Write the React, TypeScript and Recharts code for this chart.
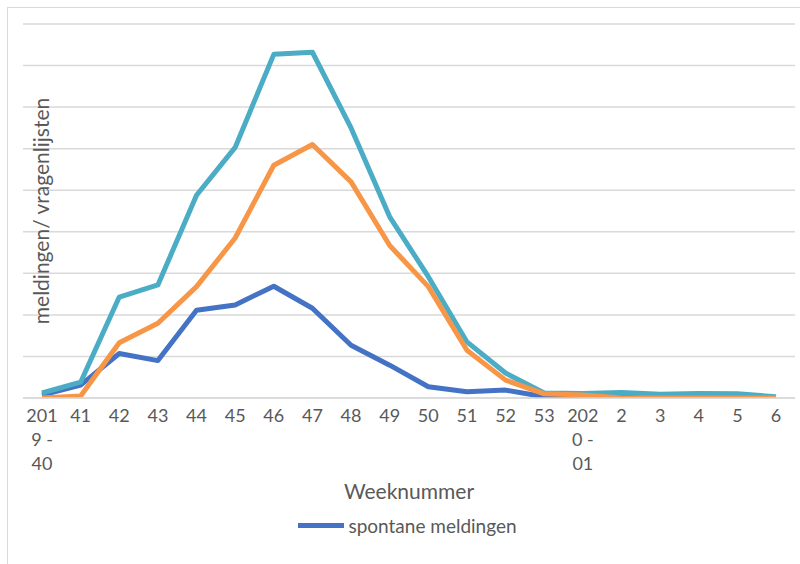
import { LineChart, Line, XAxis, YAxis, CartesianGrid, Legend, Label } from 'recharts'

const weken = [
  '2019 - 40', '41', '42', '43', '44', '45', '46', '47', '48', '49', '50', '51', '52', '53',
  '2020 - 01', '2', '3', '4', '5', '6',
]

// hoe Excel de lange labels afbreekt
const tickRegels: Record<string, string[]> = {
  '2019 - 40': ['201', '9 -', '40'],
  '2020 - 01': ['202', '0 -', '01'],
}

const spontaan = [0.07, 0.31, 1.07, 0.9, 2.11, 2.24, 2.69, 2.16, 1.27, 0.79, 0.27, 0.15, 0.19, 0.03, -0.04, 0.04, 0.03, 0.04, 0.03, 0.01]
const totaal = [0.12, 0.38, 2.43, 2.72, 4.88, 6.03, 8.27, 8.32, 6.5, 4.36, 2.92, 1.35, 0.6, 0.12, 0.11, 0.13, 0.09, 0.11, 0.1, 0.03]
const vragenlijsten = [0, 0.05, 1.33, 1.8, 2.68, 3.85, 5.6, 6.1, 5.2, 3.67, 2.68, 1.15, 0.43, 0.1, 0.07, 0, 0, 0, 0, 0]

const yTicks = [0, 1, 2, 3, 4, 5, 6, 7, 8, 9]

const data = weken.map((week, i) => ({
  week,
  spontaan: spontaan[i],
  totaal: totaal[i],
  vragenlijsten: vragenlijsten[i],
}))

const FONT = 'Lato, "Open Sans", sans-serif'
const GRIJS = '#595959'

function WeekTick({ x, y, payload }: { x?: number; y?: number; payload?: { value: string } }) {
  const waarde = payload?.value ?? ''
  const regels = tickRegels[waarde] ?? [waarde]
  return (
    <text x={x} y={y} textAnchor="middle" fill={GRIJS} fontSize={18} fontFamily={FONT}>
      {regels.map((r, i) => (
        <tspan key={i} x={x} dy={i === 0 ? 16 : 24}>{r}</tspan>
      ))}
    </text>
  )
}

function Legenda() {
  return (
    <div style={{ height: 28, display: 'flex', alignItems: 'center', justifyContent: 'center', paddingLeft: 20, fontFamily: FONT, fontSize: 19, color: GRIJS }}>
      <span style={{ display: 'inline-block', width: 46, height: 5, background: '#4472C4', marginRight: 4 }} />
      <span>spontane meldingen</span>
    </div>
  )
}

export default function App() {
  return (
    <div style={{ position: 'absolute', left: 0, top: 0, width: 800, height: 564, overflow: 'hidden', background: '#fff' }}>
      <div style={{ position: 'absolute', left: 7, top: 7, width: 820, height: 600, border: '1px solid #d9d9d9' }} />
      <LineChart
        width={800}
        height={564}
        data={data}
        margin={{ top: 24, right: 5, left: 0, bottom: 25 }}
        style={{ position: 'absolute', left: 0, top: 0 }}
      >
        <CartesianGrid vertical={false} stroke="#d9d9d9" strokeWidth={1.5} />
        <XAxis
          dataKey="week"
          interval={0}
          padding={{ left: 19, right: 19 }}
          tick={<WeekTick />}
          tickLine={false}
          axisLine={{ stroke: '#d9d9d9', strokeWidth: 1.5 }}
          height={113}
        >
          <Label value="Weeknummer" position="insideBottom" offset={12} fill={GRIJS} fontSize={21} fontFamily={FONT} />
        </XAxis>
        <YAxis
          domain={[0, 9]}
          ticks={yTicks}
          allowDataOverflow
          tick={() => <g />}
          axisLine={false}
          tickLine={false}
          width={23}
        >
          <Label
            content={({ viewBox }: any) => {
              const cx = viewBox.x + viewBox.width + 17
              const cy = viewBox.y + viewBox.height / 2
              return (
                <text
                  x={cx}
                  y={cy}
                  transform={`rotate(-90 ${cx} ${cy})`}
                  textAnchor="middle"
                  dominantBaseline="central"
                  fill={GRIJS}
                  fontSize={21}
                  fontFamily={FONT}
                >
                  meldingen/ vragenlijsten
                </text>
              )
            }}
          />
        </YAxis>
        <Legend verticalAlign="bottom" content={<Legenda />} />
        <Line dataKey="spontaan" name="spontane meldingen" stroke="#4472C4" strokeWidth={5} dot={false} strokeLinejoin="round" isAnimationActive={false} />
        <Line dataKey="totaal" stroke="#4BACC6" strokeWidth={5} dot={false} strokeLinejoin="round" legendType="none" isAnimationActive={false} />
        <Line dataKey="vragenlijsten" stroke="#F79646" strokeWidth={5} dot={false} strokeLinejoin="round" legendType="none" isAnimationActive={false} />
      </LineChart>
    </div>
  )
}
